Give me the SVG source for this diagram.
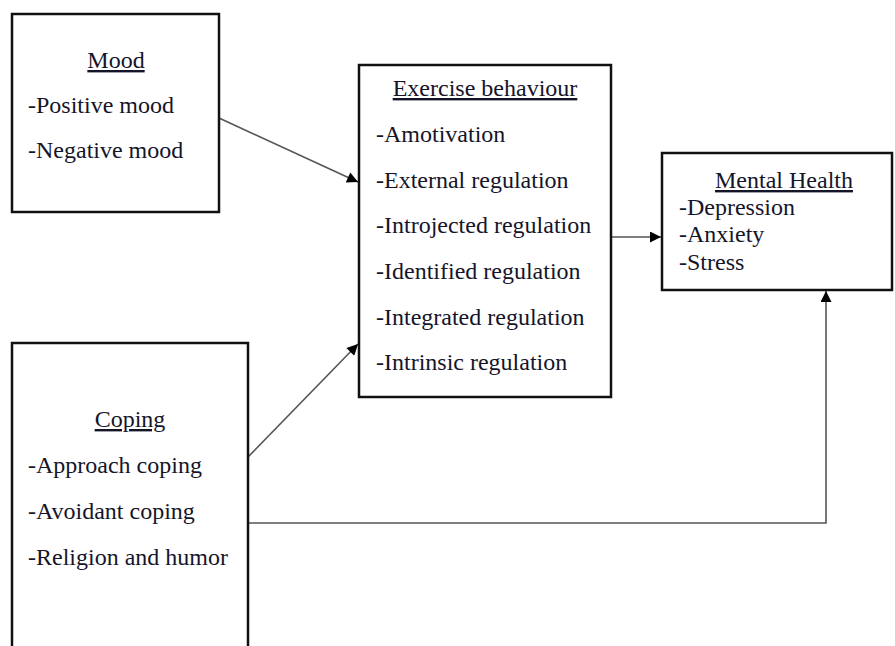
<svg xmlns="http://www.w3.org/2000/svg" width="895" height="646" viewBox="0 0 895 646">
<style>
.box{fill:#fff;stroke:#111;stroke-width:2.5}
.t{font-family:"Liberation Serif","Times New Roman",serif;font-size:24px;fill:#15152a}
.h{text-decoration:underline;text-anchor:middle}
.c{fill:none;stroke:#555;stroke-width:1.6}
</style>
<defs>
<marker id="ah" viewBox="0 0 10 10" refX="10" refY="5" markerWidth="13" markerHeight="11" markerUnits="userSpaceOnUse" orient="auto">
<path d="M0,0 L10,5 L0,10 z" fill="#000"/>
</marker>
</defs>
<rect width="895" height="646" fill="#fff"/>
<g id="connectors">
<line class="c" x1="219" y1="118" x2="358" y2="182" marker-end="url(#ah)"/>
<line class="c" x1="248" y1="457" x2="358" y2="344" marker-end="url(#ah)"/>
<line class="c" x1="611" y1="237" x2="661" y2="237" marker-end="url(#ah)"/>
<polyline class="c" points="248,523 826,523 826,291" marker-end="url(#ah)"/>
</g>
<g id="mood">
<rect class="box" x="12" y="14" width="207" height="198"/>
<text class="t h" x="116" y="68">Mood</text>
<text class="t" x="28" y="113">-Positive mood</text>
<text class="t" x="28" y="158">-Negative mood</text>
</g>
<g id="exercise">
<rect class="box" x="359" y="65" width="252" height="332"/>
<text class="t h" x="485" y="96">Exercise behaviour</text>
<text class="t" x="376" y="142">-Amotivation</text>
<text class="t" x="376" y="188">-External regulation</text>
<text class="t" x="376" y="233">-Introjected regulation</text>
<text class="t" x="376" y="279">-Identified regulation</text>
<text class="t" x="376" y="325">-Integrated regulation</text>
<text class="t" x="376" y="370">-Intrinsic regulation</text>
</g>
<g id="mental">
<rect class="box" x="662" y="153" width="230" height="137"/>
<text class="t h" x="784" y="188">Mental Health</text>
<text class="t" x="679" y="215">-Depression</text>
<text class="t" x="679" y="242">-Anxiety</text>
<text class="t" x="679" y="270">-Stress</text>
</g>
<g id="coping">
<rect class="box" x="12" y="343" width="236" height="320"/>
<text class="t h" x="130" y="427">Coping</text>
<text class="t" x="28" y="473">-Approach coping</text>
<text class="t" x="28" y="519">-Avoidant coping</text>
<text class="t" x="28" y="565">-Religion and humor</text>
</g>
</svg>
